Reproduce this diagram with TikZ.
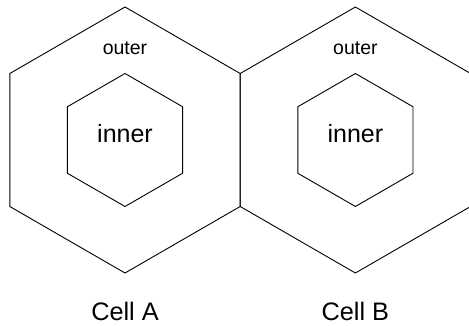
\documentclass[tikz,border=0pt]{standalone}
\usepackage{fontspec}
\setmainfont{Liberation Sans}
\begin{document}
\begin{tikzpicture}[x=1pt,y=-1pt,
  hexline/.style={draw=black,line width=0.9pt,line join=miter},
  outerlbl/.style={anchor=base,inner sep=0pt,font=\fontsize{19.5}{22}\selectfont},
  innerlbl/.style={anchor=base,inner sep=0pt,font=\fontsize{25}{28}\selectfont},
  celllbl/.style={anchor=base,inner sep=0pt,font=\fontsize{25.3}{28}\selectfont}]
\useasboundingbox (0,0) rectangle (469,326);
\clip (0,0) rectangle (469,326);
\coordinate (cA) at (125,140);
\coordinate (cB) at (355.4,140);
% outer hexagons
\draw[hexline] (cA) +(30:133) -- +(90:133) -- +(150:133) -- +(210:133) -- +(270:133) -- +(330:133) -- cycle;
\draw[hexline] (cB) +(30:133) -- +(90:133) -- +(150:133) -- +(210:133) -- +(270:133) -- +(330:133) -- cycle;
% inner hexagons
\draw[hexline] (cA) +(30:66.5) -- +(90:66.5) -- +(150:66.5) -- +(210:66.5) -- +(270:66.5) -- +(330:66.5) -- cycle;
\draw[hexline] (cB) +(30:66.5) -- +(90:66.5) -- +(150:66.5) -- +(210:66.5) -- +(270:66.5) -- +(330:66.5) -- cycle;
% labels
\node[outerlbl] (oA) at (125,55) {outer};
\node[outerlbl] (oB) at (355.4,55) {outer};
\node[innerlbl] (iA) at (125,143) {inner};
\node[innerlbl] (iB) at (355.4,143) {inner};
\node[celllbl] (lA) at (125,320) {Cell A};
\node[celllbl] (lB) at (355.4,320) {Cell B};
\end{tikzpicture}
\end{document}
